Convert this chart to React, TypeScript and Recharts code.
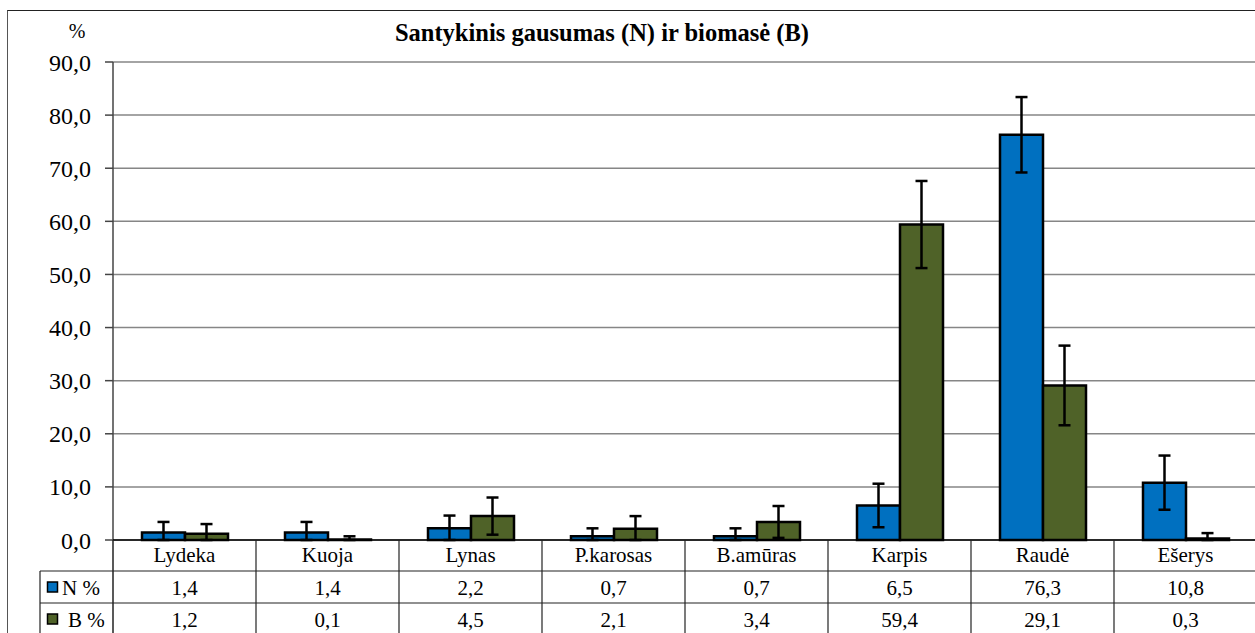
import { Bar, BarChart, CartesianGrid, ErrorBar, XAxis, YAxis } from "recharts";

const categories = ["Lydeka", "Kuoja", "Lynas", "P.karosas", "B.amūras", "Karpis", "Raudė", "Ešerys"];
const nValues = [1.4, 1.4, 2.2, 0.7, 0.7, 6.5, 76.3, 10.8];
const bValues = [1.2, 0.1, 4.5, 2.1, 3.4, 59.4, 29.1, 0.3];
// error bar half-lengths
const nErrors = [2.0, 2.0, 2.4, 1.5, 1.5, 4.1, 7.1, 5.1];
const bErrors = [1.8, 0.6, 3.5, 2.4, 3.0, 8.2, 7.5, 1.0];
const yTicks = [0, 10, 20, 30, 40, 50, 60, 70, 80, 90];

const FONT = '"Liberation Serif", "Times New Roman", serif';
const BLUE = "#0070C0";
const GREEN = "#4F6228";

const PLOT_LEFT = 113;
const PLOT_WIDTH = 1144;
const PLOT_BOTTOM = 540;
const BAND = PLOT_WIDTH / categories.length;
const ROW1 = 571; // N row top
const ROW2 = 603; // B row top
const TABLE_BOTTOM = 640;

// the plot area clips error bars at zero, so the lower arm never goes below the axis
const data = categories.map((name, i) => ({
  name,
  n: nValues[i],
  b: bValues[i],
  nErr: [Math.min(nErrors[i], nValues[i]), nErrors[i]],
  bErr: [Math.min(bErrors[i], bValues[i]), bErrors[i]],
}));

const fmt = (v: number) => v.toFixed(1).replace(".", ",");

// x-axis tick draws one column of the data table below the plot
function TableTick(props: any) {
  const { x, payload } = props;
  const i = payload.index;
  const right = x + BAND / 2;
  return (
    <g fontFamily={FONT} fontSize={21} fill="#000">
      {i === 0 && (
        <g>
          <line x1={40} x2={1260} y1={ROW1} y2={ROW1} stroke="#222" strokeWidth={1.2} />
          <line x1={40} x2={1260} y1={ROW2} y2={ROW2} stroke="#222" strokeWidth={1.2} />
          <line x1={40} x2={40} y1={ROW1} y2={TABLE_BOTTOM} stroke="#222" strokeWidth={1.2} />
          <line x1={PLOT_LEFT} x2={PLOT_LEFT} y1={PLOT_BOTTOM} y2={TABLE_BOTTOM} stroke="#222" strokeWidth={1.5} />
          <rect x={47.5} y={582} width={10} height={10} fill={BLUE} stroke="#000" strokeWidth={1.5} />
          <text x={62} y={595} textAnchor="start">N %</text>
          <rect x={47.5} y={614} width={10} height={10} fill={GREEN} stroke="#000" strokeWidth={1.5} />
          <text x={68} y={627} textAnchor="start">B %</text>
        </g>
      )}
      <line x1={right} x2={right} y1={PLOT_BOTTOM} y2={TABLE_BOTTOM} stroke="#222" strokeWidth={1.2} />
      <text x={x} y={562} textAnchor="middle">{categories[i]}</text>
      <text x={x} y={595} textAnchor="middle">{fmt(nValues[i])}</text>
      <text x={x} y={627} textAnchor="middle">{fmt(bValues[i])}</text>
    </g>
  );
}

export default function App() {
  return (
    <div
      style={{
        position: "absolute",
        left: 0,
        top: 0,
        width: 1255,
        height: 633,
        overflow: "hidden",
        background: "#fff",
        fontFamily: FONT,
      }}
    >
      <div
        style={{
          position: "absolute",
          left: 7,
          top: 10,
          width: 1300,
          height: 700,
          borderTop: "1.5px solid #222",
          borderLeft: "1.5px solid #555",
        }}
      />
      <div style={{ position: "absolute", left: 0, top: 0 }}>
        <BarChart
          width={PLOT_LEFT + PLOT_WIDTH}
          height={633}
          data={data}
          margin={{ top: 62, right: 0, bottom: 0, left: 0 }}
          barCategoryGap={29}
          barGap={0}
        >
          <text x={77} y={38} textAnchor="middle" fontFamily={FONT} fontSize={20} fill="#000">
            %
          </text>
          <text x={602} y={41} textAnchor="middle" fontFamily={FONT} fontSize={24.5} fontWeight="bold" fill="#000">
            Santykinis gausumas (N) ir biomasė (B)
          </text>
          <CartesianGrid vertical={false} stroke="#868686" strokeWidth={1.5} />
          <YAxis
            width={PLOT_LEFT}
            domain={[0, 90]}
            ticks={yTicks}
            tickFormatter={fmt}
            tickSize={8}
            tickMargin={14}
            tick={{ fontFamily: FONT, fontSize: 24, fill: "#000" }}
            stroke="#444"
            strokeWidth={1.5}
          />
          <XAxis
            dataKey="name"
            height={633 - PLOT_BOTTOM}
            interval={0}
            tickLine={false}
            axisLine={{ stroke: "#000", strokeWidth: 1.5 }}
            tick={<TableTick />}
          />
          <Bar dataKey="n" fill={BLUE} stroke="#000" strokeWidth={2.5} isAnimationActive={false}>
            <ErrorBar dataKey="nErr" width={6} stroke="#000" strokeWidth={2.5} direction="y" isAnimationActive={false} />
          </Bar>
          <Bar dataKey="b" fill={GREEN} stroke="#000" strokeWidth={2.5} isAnimationActive={false}>
            <ErrorBar dataKey="bErr" width={6} stroke="#000" strokeWidth={2.5} direction="y" isAnimationActive={false} />
          </Bar>
        </BarChart>
      </div>
    </div>
  );
}
